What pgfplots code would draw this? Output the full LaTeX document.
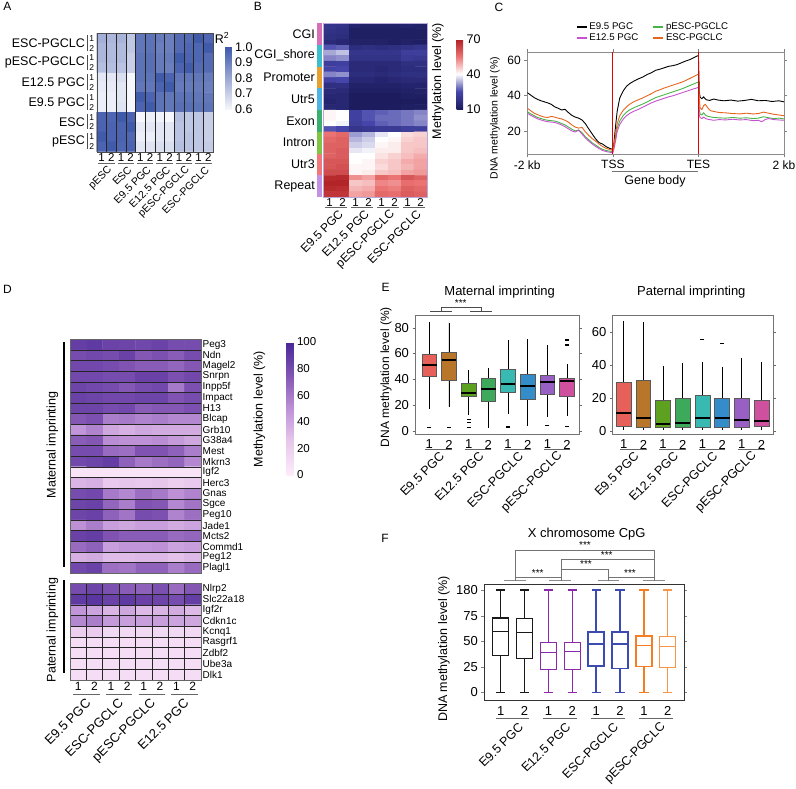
\documentclass[border=0pt]{standalone}
\usepackage{fontspec}
\setmainfont{Liberation Sans}
\usepackage{pgfplots}
\pgfplotsset{compat=1.18}
\usepgfplotslibrary{statistics}
\usetikzlibrary{plotmarks}
\newcommand\fs[1]{\fontsize{#1}{#1}\selectfont}
\definecolor{c1}{RGB}{232,96,90}
\definecolor{c2}{RGB}{184,118,42}
\definecolor{c3}{RGB}{94,160,32}
\definecolor{c4}{RGB}{60,170,90}
\definecolor{c5}{RGB}{56,186,178}
\definecolor{c6}{RGB}{52,140,200}
\definecolor{c7}{RGB}{152,96,196}
\definecolor{c8}{RGB}{208,80,160}
\definecolor{fk}{RGB}{25,25,25}
\definecolor{fp}{RGB}{140,40,170}
\definecolor{fbl}{RGB}{60,75,175}
\definecolor{fo}{RGB}{245,125,35}
\definecolor{fo2}{RGB}{245,150,75}
\definecolor{cmag}{RGB}{200,80,210}
\definecolor{cgrn}{RGB}{70,180,70}
\definecolor{cora}{RGB}{230,100,30}
\definecolor{s1}{RGB}{214,110,184}
\definecolor{s2}{RGB}{60,190,205}
\definecolor{s3}{RGB}{230,160,50}
\definecolor{s4}{RGB}{80,178,225}
\definecolor{s5}{RGB}{60,175,110}
\definecolor{s6}{RGB}{130,195,65}
\definecolor{s7}{RGB}{240,120,120}
\definecolor{s8}{RGB}{195,145,225}
\pgfplotsset{
 base/.style={scale only axis, anchor=north west, /pgf/number format/assume math mode=true,
   ticklabel style={font=\fs{12.5}}, label style={font=\fs{12.5}}},
 heat/.style={base, axis on top, enlargelimits=false, y dir=reverse, major tick length=0pt,
   minor tick length=0pt, grid=minor, minor grid style={black!85, line width=0.55pt}},
 eb/.style={draw=black!65, line width=0.6pt, mark=-, mark size=2pt, mark options={black, line width=1.3pt, solid},
   boxplot/draw direction=y,
   boxplot/every median/.style={black, line width=2.2pt}, boxplot/every whisker/.style={black, line width=0.8pt}},
 fbx/.style={line width=1.4pt, fill=white, boxplot/draw direction=y},
}
\newcommand\N[4][]{\node[L,#1] at (#2pt,-#3pt) {#4};}
\newcommand\HL[4][]{\draw[#1] (#2pt,-#4pt) -- (#3pt,-#4pt);}
\newcommand\VL[4][]{\draw[#1] (#2pt,-#3pt) -- (#2pt,-#4pt);}
\begin{document}
\begin{tikzpicture}[L/.style={inner sep=0pt, font=\fs{12.5}}, ul/.style={black!60, line width=1pt}]
\path[use as bounding box] (0,0) rectangle (796pt,-788pt);
% ================= A =================
\N{7.5}{6}{\fs{12}A}
\begin{axis}[heat, at={(96.7pt,-33.3pt)}, width=116.4pt, height=118.4pt,
 xmin=-0.5, xmax=11.5, ymin=-0.5, ymax=11.5,
 xtick={0,...,11}, xticklabels={1,2,1,2,1,2,1,2,1,2,1,2}, xticklabel style={font=\fs{11.5}, yshift=2pt},
 ytick=\empty, minor xtick={0.5,1.5,...,10.5}, minor ytick={0.5,1.5,...,10.5},
 axis line style={black!70},
 colormap={mapA}{rgb255(0cm)=(246,247,252); rgb255(1cm)=(62,88,170)},
 point meta min=0.6, point meta max=1.0,
 colorbar, colorbar style={at={(parent axis.north east)}, anchor=north west, xshift=3.5pt, yshift=-13.4pt,
   scale only axis, width=6.5pt, height=62.5pt, ytick={0.6,0.7,0.8,0.9,1.0},
   yticklabel style={font=\fs{12.5}, /pgf/number format/assume math mode=true, /pgf/number format/fixed,
   /pgf/number format/fixed zerofill, /pgf/number format/precision=1},
   major tick length=0pt, axis line style={draw=none}}]
\addplot[matrix plot*, mesh/cols=12, point meta=explicit] table[header=false, row sep=\\,
 x expr={mod(\coordindex,12)}, y expr={floor((\coordindex+0.5)/12)}, meta index=0] {
0.78\\0.76\\0.77\\0.72\\0.92\\0.93\\0.91\\0.90\\0.95\\0.95\\0.99\\0.96\\
0.76\\0.75\\0.75\\0.72\\0.92\\0.93\\0.90\\0.90\\0.95\\0.96\\0.96\\0.99\\
0.76\\0.75\\0.75\\0.70\\0.93\\0.94\\0.91\\0.91\\0.99\\0.97\\0.96\\0.95\\
0.74\\0.74\\0.73\\0.70\\0.93\\0.94\\0.91\\0.90\\0.97\\0.99\\0.95\\0.95\\
0.64\\0.64\\0.66\\0.60\\0.93\\0.93\\0.99\\0.97\\0.92\\0.92\\0.92\\0.91\\
0.63\\0.63\\0.64\\0.60\\0.92\\0.92\\0.97\\0.99\\0.91\\0.91\\0.91\\0.90\\
0.62\\0.62\\0.64\\0.60\\0.99\\0.97\\0.93\\0.92\\0.93\\0.93\\0.92\\0.92\\
0.62\\0.62\\0.65\\0.60\\0.97\\0.99\\0.93\\0.92\\0.94\\0.94\\0.93\\0.93\\
0.97\\0.96\\0.99\\0.97\\0.60\\0.62\\0.61\\0.60\\0.74\\0.72\\0.72\\0.70\\
0.97\\0.97\\0.97\\0.99\\0.63\\0.64\\0.64\\0.64\\0.73\\0.72\\0.72\\0.70\\
0.99\\0.97\\0.97\\0.96\\0.62\\0.62\\0.64\\0.64\\0.73\\0.73\\0.72\\0.70\\
0.97\\0.99\\0.96\\0.97\\0.64\\0.65\\0.66\\0.66\\0.74\\0.73\\0.72\\0.71\\
};
\end{axis}
\N{222}{38}{R\textsuperscript{2}}
\N[anchor=east]{85}{43.2}{ESC-PGCLC}
\N[anchor=east]{85}{62.9}{pESC-PGCLC}
\N[anchor=east]{85}{82.6}{E12.5 PGC}
\N[anchor=east]{85}{102.3}{E9.5 PGC}
\N[anchor=east]{85}{122.0}{ESC}
\N[anchor=east]{85}{141.7}{pESC}
\VL[black!70, line width=0.8pt]{87}{34.8}{50.5}
\VL[black!70, line width=0.8pt]{87}{54.5}{70.2}
\VL[black!70, line width=0.8pt]{87}{74.2}{90}
\VL[black!70, line width=0.8pt]{87}{94}{109.7}
\VL[black!70, line width=0.8pt]{87}{113.7}{129.4}
\VL[black!70, line width=0.8pt]{87}{133.4}{149.2}
\N[font=\fs{8.5}]{91.7}{38.2}{1}\N[font=\fs{8.5}]{91.7}{48.1}{2}
\N[font=\fs{8.5}]{91.7}{57.9}{1}\N[font=\fs{8.5}]{91.7}{67.8}{2}
\N[font=\fs{8.5}]{91.7}{77.7}{1}\N[font=\fs{8.5}]{91.7}{87.5}{2}
\N[font=\fs{8.5}]{91.7}{97.4}{1}\N[font=\fs{8.5}]{91.7}{107.3}{2}
\N[font=\fs{8.5}]{91.7}{117.1}{1}\N[font=\fs{8.5}]{91.7}{127.0}{2}
\N[font=\fs{8.5}]{91.7}{136.9}{1}\N[font=\fs{8.5}]{91.7}{146.7}{2}
\HL[ul]{98.2}{114.6}{163.3}\HL[ul]{117.6}{134}{163.3}\HL[ul]{137}{153.4}{163.3}
\HL[ul]{156.4}{172.8}{163.3}\HL[ul]{175.8}{192.2}{163.3}\HL[ul]{195.2}{211.6}{163.3}
\N[anchor=east, rotate=45, font=\fs{10.5}]{110.4}{168}{pESC}
\N[anchor=east, rotate=45, font=\fs{10.5}]{129.8}{168}{ESC}
\N[anchor=east, rotate=45, font=\fs{10.5}]{149.2}{168}{E9.5 PGC}
\N[anchor=east, rotate=45, font=\fs{10.5}]{168.6}{168}{E12.5 PGC}
\N[anchor=east, rotate=45, font=\fs{10.5}]{188}{168}{pESC-PGCLC}
\N[anchor=east, rotate=45, font=\fs{10.5}]{207.4}{168}{ESC-PGCLC}
% ================= B =================
\N{258}{6}{\fs{12}B}
\begin{axis}[base, axis on top, enlargelimits=false, y dir=reverse, at={(323pt,-23pt)}, width=104pt, height=174pt,
 xmin=-0.5, xmax=7.5, ymin=-0.5, ymax=31.5, xtick={0,...,7}, xticklabels={1,2,1,2,1,2,1,2},
 xticklabel style={font=\fs{11.5}, yshift=2pt}, ytick=\empty, major tick length=0pt,
 axis line style={draw={rgb,255:red,185;green,170;blue,220}},
 colormap={mapB}{rgb255(0cm)=(28,28,95); rgb255(1cm)=(70,70,170); rgb255(2cm)=(255,255,255); rgb255(3cm)=(235,115,115); rgb255(4cm)=(175,30,35)},
 point meta min=10, point meta max=70,
 colorbar, colorbar style={at={(parent axis.north east)}, anchor=north west, xshift=21pt, yshift=-16pt,
   scale only axis, width=6.5pt, height=70pt, ytick={10,40,70},
   yticklabel style={font=\fs{12.5}, /pgf/number format/assume math mode=true},
   major tick length=0pt, axis line style={draw=none}}]
\addplot[matrix plot*, mesh/cols=8, point meta=explicit] table[header=false, row sep=\\,
 x expr={mod(\coordindex,8)}, y expr={floor((\coordindex+0.5)/8)}, meta index=0] {
19\\18\\13\\12\\12\\12\\13\\12\\
18\\17\\11\\11\\11\\11\\11\\11\\
17\\16\\11\\11\\11\\11\\11\\11\\
15\\14\\12\\12\\12\\11\\12\\11\\
26\\27\\16\\17\\16\\17\\18\\19\\
33\\35\\19\\19\\19\\19\\22\\22\\
30\\31\\18\\18\\18\\18\\21\\20\\
22\\23\\15\\15\\15\\15\\17\\17\\
24\\25\\15\\15\\14\\15\\16\\16\\
30\\31\\16\\16\\15\\16\\17\\17\\
24\\25\\14\\14\\13\\14\\15\\15\\
17\\17\\12\\12\\12\\12\\13\\13\\
15\\15\\11\\11\\11\\11\\12\\12\\
14\\14\\10\\10\\10\\10\\11\\11\\
13\\14\\10\\10\\10\\10\\10\\10\\
14\\14\\10\\10\\10\\10\\11\\11\\
41\\40\\23\\26\\27\\28\\29\\30\\
41\\40\\23\\26\\28\\28\\29\\31\\
40\\39\\22\\25\\27\\28\\29\\30\\
26\\25\\19\\20\\21\\21\\22\\22\\
55\\57\\32\\34\\38\\40\\44\\45\\
57\\58\\34\\36\\40\\41\\45\\46\\
58\\58\\36\\37\\41\\42\\46\\46\\
58\\59\\38\\39\\42\\42\\46\\47\\
58\\59\\40\\40\\43\\45\\47\\49\\
60\\60\\40\\41\\45\\46\\49\\50\\
60\\61\\41\\41\\44\\46\\48\\50\\
62\\62\\41\\42\\46\\47\\50\\51\\
68\\68\\52\\50\\57\\55\\60\\58\\
69\\69\\46\\47\\53\\52\\56\\55\\
68\\67\\48\\49\\55\\54\\58\\57\\
66\\66\\50\\51\\57\\56\\59\\58\\
};
\end{axis}
\fill[s1] (317pt,-23pt) rectangle (321.5pt,-44.75pt);
\fill[s2] (317pt,-44.75pt) rectangle (321.5pt,-66.5pt);
\fill[s3] (317pt,-66.5pt) rectangle (321.5pt,-88.25pt);
\fill[s4] (317pt,-88.25pt) rectangle (321.5pt,-110pt);
\fill[s5] (317pt,-110pt) rectangle (321.5pt,-131.75pt);
\fill[s6] (317pt,-131.75pt) rectangle (321.5pt,-153.5pt);
\fill[s7] (317pt,-153.5pt) rectangle (321.5pt,-175.25pt);
\fill[s8] (317pt,-175.25pt) rectangle (321.5pt,-197pt);
\N[anchor=east]{315}{33.9}{CGI}
\N[anchor=east]{315}{55.6}{CGI\_shore}
\N[anchor=east]{315}{77.4}{Promoter}
\N[anchor=east]{315}{99.1}{Utr5}
\N[anchor=east]{315}{120.9}{Exon}
\N[anchor=east]{315}{142.6}{Intron}
\N[anchor=east]{315}{164.4}{Utr3}
\N[anchor=east]{315}{186.1}{Repeat}
\HL[ul]{325}{347}{207}\HL[ul]{351}{373}{207}\HL[ul]{377}{399}{207}\HL[ul]{403}{425}{207}
\N[anchor=east, rotate=45, font=\fs{12}]{341}{212}{E9.5 PGC}
\N[anchor=east, rotate=45, font=\fs{12}]{367}{212}{E12.5 PGC}
\N[anchor=east, rotate=45, font=\fs{12}]{393}{212}{pESC-PGCLC}
\N[anchor=east, rotate=45, font=\fs{12}]{419}{212}{ESC-PGCLC}
\N[rotate=90]{438}{81}{Methylation level (\%)}
% ================= C =================
\N{499}{7}{\fs{12}C}
\begin{axis}[base, at={(527.3pt,-52pt)}, width=256.7pt, height=102pt,
 xmin=0, xmax=300, ymin=7, ymax=64.5, xtick={0,100,200,300}, xticklabels={-2 kb,TSS,TES,2 kb},
 ytick={20,40,60}, tick align=outside, major tick length=3pt, axis line style={black!45, line width=0.8pt},
 ticklabel style={font=\fs{12}},
 legend columns=2, legend cell align=left,
 legend style={at={(0.188,1.075)}, anchor=south west, draw=none, fill=none, font=\fs{9.7},
   inner sep=0pt, row sep=-1.5pt, /tikz/every even column/.append style={column sep=12pt}},
 legend image code/.code={\draw[#1, line width=1.6pt] (0pt,0pt) -- (10pt,0pt);}]
\addplot[black, line width=0.9pt] coordinates {(0,41.6)(4,40.2)(8,38.8)(12,37.8)(16,37.0)(20,36.4)(24,35.8)(28,35.0)(32,33.6)(36,32.8)(40,31.8)(44,32.2)(48,30.4)(52,28.8)(56,27.8)(60,27.2)(64,26.2)(68,24.0)(72,21.0)(76,18.2)(80,15.4)(84,13.4)(88,12.6)(92,11.2)(96,10.2)(100,9.6)(101,12)(103,22)(105,31)(108,38.5)(112,42.5)(116,45.2)(120,46.8)(125,48.2)(130,49.4)(135,50.4)(140,51.8)(145,52.8)(150,54.2)(155,54.8)(160,55.6)(165,56.4)(170,56.8)(175,57.4)(180,58.4)(185,59.4)(190,60.2)(195,61.4)(199,62.4)(200,62.4)(201,42)(202,39)(204,38.2)(206,39.2)(209,37.6)(213,37.2)(218,38.0)(223,37.4)(230,37.0)(238,37.4)(246,36.8)(254,37.2)(262,37.8)(270,37.0)(278,37.2)(286,36.6)(294,37.0)(300,36.4)};
\addlegendentry{E9.5 PGC}
\addplot[cgrn, line width=0.9pt] coordinates {(0,30.9)(4,29.6)(8,28.6)(12,27.6)(16,27.0)(20,26.4)(24,26.0)(28,25.8)(32,25.6)(36,25.0)(40,24.2)(44,23.4)(48,22.2)(52,21.0)(56,20.0)(60,20.6)(64,19.0)(68,16.6)(72,15.0)(76,13.2)(80,12.0)(84,10.6)(88,9.6)(92,9.0)(96,8.6)(100,8.4)(101,10)(103,15.5)(105,21.5)(108,25.6)(112,28.6)(116,30.6)(120,32.0)(125,33.2)(130,34.2)(135,35.2)(140,36.4)(145,37.6)(150,38.8)(155,39.6)(160,40.4)(165,41.2)(170,42.0)(175,42.8)(180,43.6)(185,44.6)(190,45.6)(195,46.6)(199,47.4)(200,47.6)(201,32)(202,29.5)(204,29.0)(206,30.2)(209,28.6)(213,28.0)(218,27.6)(224,27.4)(232,27.2)(240,27.6)(248,27.2)(256,27.4)(264,27.0)(270,27.2)(276,28.0)(282,27.4)(288,27.0)(294,27.2)(300,26.8)};
\addlegendentry{pESC-PGCLC}
\addplot[cmag, line width=0.9pt] coordinates {(0,30.0)(4,28.8)(8,27.8)(12,26.8)(16,26.2)(20,25.6)(24,25.2)(28,25.0)(32,24.8)(36,24.2)(40,23.4)(44,22.4)(48,21.2)(52,20.0)(56,19.4)(60,20.4)(64,18.2)(68,16.0)(72,14.2)(76,12.6)(80,11.2)(84,10.0)(88,9.0)(92,8.4)(96,8.0)(100,7.8)(101,9.4)(103,14)(105,19.6)(108,23.6)(112,26.6)(116,28.6)(120,30.0)(125,31.2)(130,32.2)(135,33.4)(140,34.6)(145,35.8)(150,36.8)(155,37.6)(160,38.4)(165,39.2)(170,39.8)(175,40.6)(180,41.4)(185,42.2)(190,43.0)(195,43.8)(199,44.4)(200,44.6)(201,29)(202,27.5)(204,27.0)(206,27.8)(209,26.8)(213,26.4)(218,26.0)(224,26.4)(232,26.2)(240,26.6)(248,26.2)(256,26.4)(264,25.8)(270,26.0)(274,25.2)(278,26.4)(282,27.0)(288,26.4)(294,26.2)(300,26.0)};
\addlegendentry{E12.5 PGC}
\addplot[cora, line width=0.9pt] coordinates {(0,32.8)(4,31.4)(8,30.0)(12,29.2)(16,28.4)(20,27.8)(24,27.6)(28,28.2)(32,27.8)(36,27.2)(40,26.8)(44,26.0)(48,25.0)(52,23.4)(56,22.2)(60,21.6)(64,22.0)(68,19.4)(72,17.4)(76,15.6)(80,14.2)(84,12.6)(88,11.2)(92,10.2)(96,9.6)(100,9.0)(101,11)(103,17.5)(105,24)(108,28.5)(112,31.6)(116,33.6)(120,35.2)(125,36.6)(130,37.6)(135,38.6)(140,39.8)(145,41.0)(150,42.4)(155,43.2)(160,44.2)(165,45.0)(170,45.8)(175,46.6)(180,47.4)(185,48.4)(190,49.6)(195,50.8)(199,51.8)(200,52)(201,38)(202,33)(204,32)(206,34.2)(208,35)(211,33)(214,31.4)(218,31.0)(224,30.4)(232,30.2)(240,29.8)(248,29.6)(256,30.0)(264,29.6)(270,29.8)(276,30.6)(282,30.0)(288,29.4)(294,29.0)(300,28.6)};
\addlegendentry{ESC-PGCLC}
\addplot[red!90!black, line width=0.8pt, forget plot] coordinates {(100,7) (100,64.5)};
\addplot[red!90!black, line width=0.8pt, forget plot] coordinates {(200,7) (200,64.5)};
\end{axis}
\N[rotate=90, font=\fs{10.5}]{495}{118}{DNA methylation level (\%)}
\HL[black!55, line width=0.9pt]{611.7}{698.3}{171.7}
\N{655}{181}{Gene body}
% ================= D =================
\N{7.5}{289}{\fs{12}D}
\begin{axis}[heat, at={(70pt,-339.3pt)}, width=131pt, height=234pt,
 xmin=-0.5, xmax=7.5, ymin=-0.5, ymax=21.5, xtick=\empty,
 ytick={0,...,21}, yticklabels={Peg3,Ndn,Magel2,Snrpn,Inpp5f,Impact,H13,Blcap,Grb10,G38a4,Mest,Mkrn3,Igf2,Herc3,Gnas,Sgce,Peg10,Jade1,Mcts2,Commd1,Peg12,Plagl1},
 yticklabel pos=right, yticklabel style={font=\fs{10}, inner sep=1.5pt},
 minor xtick={0.5,1.5,...,6.5}, minor ytick={0.5,1.5,...,20.5}, axis line style={black!60},
 colormap={mapD}{rgb255(0cm)=(253,236,251); rgb255(1cm)=(232,200,236); rgb255(2cm)=(190,145,215); rgb255(3cm)=(130,85,180); rgb255(4cm)=(72,40,150)},
 point meta min=0, point meta max=100,
 colorbar, colorbar style={at={(parent axis.north east)}, anchor=north west, xshift=77pt, yshift=-2.7pt,
   scale only axis, width=7pt, height=133pt, ytick={0,20,40,60,80,100},
   yticklabel style={font=\fs{11.5}, /pgf/number format/assume math mode=true},
   major tick length=0pt, axis line style={draw=none}}]
\addplot[matrix plot*, mesh/cols=8, point meta=explicit] table[header=false, row sep=\\,
 x expr={mod(\coordindex,8)}, y expr={floor((\coordindex+0.5)/8)}, meta index=0] {
88\\90\\85\\84\\83\\85\\80\\80\\
80\\82\\80\\86\\74\\78\\72\\80\\
82\\82\\80\\76\\72\\72\\68\\74\\
82\\82\\80\\80\\86\\86\\78\\82\\
84\\82\\80\\74\\80\\82\\60\\78\\
86\\84\\82\\82\\84\\84\\76\\80\\
84\\84\\80\\82\\72\\74\\74\\78\\
74\\78\\58\\60\\56\\58\\54\\54\\
48\\56\\40\\36\\40\\38\\38\\38\\
72\\74\\52\\50\\50\\52\\46\\40\\
80\\80\\66\\64\\76\\76\\70\\58\\
82\\84\\88\\70\\60\\64\\68\\54\\
6\\6\\6\\6\\6\\6\\6\\6\\
34\\36\\24\\26\\24\\26\\20\\24\\
80\\82\\60\\54\\64\\60\\50\\56\\
84\\86\\68\\58\\76\\74\\54\\62\\
84\\86\\70\\62\\80\\78\\56\\64\\
50\\58\\44\\40\\44\\44\\38\\42\\
86\\88\\76\\72\\72\\72\\66\\68\\
66\\70\\44\\48\\48\\50\\42\\44\\
36\\38\\30\\30\\32\\32\\28\\32\\
82\\86\\64\\62\\70\\70\\58\\66\\
};
\end{axis}
\begin{axis}[heat, at={(70pt,-583.3pt)}, width=131pt, height=96.7pt,
 xmin=-0.5, xmax=7.5, ymin=-0.5, ymax=8.5,
 xtick={0,...,7}, xticklabels={1,2,1,2,1,2,1,2}, xticklabel style={font=\fs{12}, yshift=1pt},
 ytick={0,...,8}, yticklabels={Nlrp2,Slc22a18,Igf2r,Cdkn1c,Kcnq1,Rasgrf1,Zdbf2,Ube3a,Dlk1},
 yticklabel pos=right, yticklabel style={font=\fs{10}, inner sep=1.5pt},
 minor xtick={0.5,1.5,...,6.5}, minor ytick={0.5,1.5,...,7.5}, axis line style={black!60},
 colormap={mapD}{rgb255(0cm)=(253,236,251); rgb255(1cm)=(232,200,236); rgb255(2cm)=(190,145,215); rgb255(3cm)=(130,85,180); rgb255(4cm)=(72,40,150)},
 point meta min=0, point meta max=100]
\addplot[matrix plot*, mesh/cols=8, point meta=explicit] table[header=false, row sep=\\,
 x expr={mod(\coordindex,8)}, y expr={floor((\coordindex+0.5)/8)}, meta index=0] {
80\\84\\78\\72\\70\\78\\66\\74\\
90\\92\\86\\90\\86\\84\\80\\88\\
48\\42\\34\\40\\32\\34\\38\\32\\
54\\58\\46\\44\\44\\44\\42\\40\\
20\\22\\14\\14\\14\\14\\14\\14\\
10\\10\\10\\10\\10\\10\\10\\10\\
10\\10\\10\\10\\10\\10\\10\\10\\
10\\10\\10\\10\\10\\10\\10\\10\\
10\\10\\10\\10\\10\\10\\10\\10\\
};
\end{axis}
\VL[black, line width=1.2pt]{64}{342}{567}
\VL[black, line width=1.2pt]{64}{580}{673}
\N[rotate=90]{52.5}{445}{Maternal imprinting}
\N[rotate=90]{52.5}{630}{Paternal imprinting}
\N[rotate=90]{259.5}{409}{Methylation level (\%)}
\HL[ul]{73}{99.8}{694}\HL[ul]{105.8}{132.4}{694}\HL[ul]{138.5}{165.2}{694}\HL[ul]{171.3}{198}{694}
\N[anchor=east, rotate=45, font=\fs{13}]{88.4}{701}{E9.5 PGC}
\N[anchor=east, rotate=45, font=\fs{13}]{121.1}{701}{ESC-PGCLC}
\N[anchor=east, rotate=45, font=\fs{13}]{153.9}{701}{pESC-PGCLC}
\N[anchor=east, rotate=45, font=\fs{13}]{186.6}{701}{E12.5 PGC}
% ================= E =================
\N{385.5}{287.5}{\fs{12}E}
\begin{axis}[base, at={(415pt,-315pt)}, width=164.3pt, height=119pt,
 xmin=0.274, xmax=8.62, ymin=-2.6, ymax=89.9, xtick={1,...,8}, xticklabels={1,2,1,2,1,2,1,2},
 ytick={0,20,40,60,80}, axis line style={black!55, line width=0.9pt}, tick align=outside,
 major tick length=2.5pt, xtick style={draw=none}, ytick style={black!60}, ticklabel style={font=\fs{13}}]
\addplot[eb, fill=c1, boxplot prepared={draw position=1, lower whisker=17, lower quartile=42, median=51, upper quartile=59.3, upper whisker=84.7, box extend=0.75, whisker extend=0}] table[row sep=\\, y index=0] {v\\2.3\\};
\addplot[eb, fill=c2, boxplot prepared={draw position=2, lower whisker=18.7, lower quartile=38.8, median=55.2, upper quartile=60.9, upper whisker=83.9, box extend=0.75, whisker extend=0}] table[row sep=\\, y index=0] {v\\2.3\\};
\addplot[eb, fill=c3, boxplot prepared={draw position=3, lower whisker=12.2, lower quartile=26.4, median=29, upper quartile=37, upper whisker=47.1, box extend=0.75, whisker extend=0}] table[row sep=\\, y index=0] {v\\8.8\\6.2\\2.3\\};
\addplot[eb, fill=c4, boxplot prepared={draw position=4, lower whisker=2.3, lower quartile=23.1, median=32.6, upper quartile=40.7, upper whisker=48.4, box extend=0.75, whisker extend=0}] coordinates {};
\addplot[eb, fill=c5, boxplot prepared={draw position=5, lower whisker=13, lower quartile=30, median=36, upper quartile=47.7, upper whisker=70.4, box extend=0.75, whisker extend=0}] table[row sep=\\, y index=0] {v\\2.8\\};
\addplot[eb, fill=c6, boxplot prepared={draw position=6, lower whisker=3.3, lower quartile=24.4, median=34.7, upper quartile=44, upper whisker=71, box extend=0.75, whisker extend=0}] coordinates {};
\addplot[eb, fill=c7, boxplot prepared={draw position=7, lower whisker=10.9, lower quartile=28, median=37.8, upper quartile=43.3, upper whisker=66.5, box extend=0.75, whisker extend=0}] table[row sep=\\, y index=0] {v\\3.8\\};
\addplot[eb, fill=c8, boxplot prepared={draw position=8, lower whisker=11.4, lower quartile=27, median=38.6, upper quartile=41, upper whisker=51.8, box extend=0.75, whisker extend=0}] table[row sep=\\, y index=0] {v\\3.3\\66.5\\70.4\\};
\end{axis}
\begin{axis}[base, at={(612.3pt,-315pt)}, width=161pt, height=119pt,
 xmin=0.42, xmax=8.6, ymin=-2, ymax=70.1, xtick={1,...,8}, xticklabels={1,2,1,2,1,2,1,2},
 ytick={0,20,40,60}, axis line style={black!55, line width=0.9pt}, tick align=outside,
 major tick length=2.5pt, xtick style={draw=none}, ytick style={black!60}, ticklabel style={font=\fs{13}}]
\addplot[eb, fill=c1, boxplot prepared={draw position=1, lower whisker=0.5, lower quartile=2.8, median=10.5, upper quartile=29.1, upper whisker=66.5, box extend=0.75, whisker extend=0}] coordinates {};
\addplot[eb, fill=c2, boxplot prepared={draw position=2, lower whisker=0.5, lower quartile=2, median=7.7, upper quartile=30.3, upper whisker=66, box extend=0.75, whisker extend=0}] coordinates {};
\addplot[eb, fill=c3, boxplot prepared={draw position=3, lower whisker=0.5, lower quartile=2, median=4, upper quartile=18.6, upper whisker=39.4, box extend=0.75, whisker extend=0}] coordinates {};
\addplot[eb, fill=c4, boxplot prepared={draw position=4, lower whisker=0.5, lower quartile=2.2, median=4.9, upper quartile=19.4, upper whisker=41, box extend=0.75, whisker extend=0}] coordinates {};
\addplot[eb, fill=c5, boxplot prepared={draw position=5, lower whisker=0.5, lower quartile=2.2, median=7.9, upper quartile=21.2, upper whisker=41.4, box extend=0.75, whisker extend=0}] table[row sep=\\, y index=0] {v\\55.4\\};
\addplot[eb, fill=c6, boxplot prepared={draw position=6, lower whisker=0.5, lower quartile=2.2, median=7.9, upper quartile=19.6, upper whisker=38.8, box extend=0.75, whisker extend=0}] table[row sep=\\, y index=0] {v\\53\\};
\addplot[eb, fill=c7, boxplot prepared={draw position=7, lower whisker=0.5, lower quartile=2.2, median=6.7, upper quartile=19.6, upper whisker=43.9, box extend=0.75, whisker extend=0}] coordinates {};
\addplot[eb, fill=c8, boxplot prepared={draw position=8, lower whisker=0.5, lower quartile=2.8, median=6.1, upper quartile=18.6, upper whisker=41.4, box extend=0.75, whisker extend=0}] coordinates {};
\end{axis}
\N[font=\fs{13}]{499.7}{292.3}{Maternal imprinting}
\N[font=\fs{13}]{691.3}{292.3}{Paternal imprinting}
\N[rotate=90, font=\fs{12}]{386}{377}{DNA methylation level (\%)}
\HL[black!70, line width=0.8pt]{430}{451.7}{311.7}
\HL[black!70, line width=0.8pt]{470}{491.7}{311.7}
\draw[black!70, line width=0.8pt] (441pt,-311pt) -- (441pt,-307.7pt) -- (481pt,-307.7pt) -- (481pt,-311pt);
\N[font=\fs{10}]{460.7}{303.5}{***}
\HL[ul]{425.3}{452}{449}\HL[ul]{464.7}{491.4}{449}\HL[ul]{504.1}{530.8}{449}\HL[ul]{543.5}{570.2}{449}
\HL[ul]{619.8}{646.5}{449}\HL[ul]{659.1}{685.8}{449}\HL[ul]{698.5}{725.2}{449}\HL[ul]{737.8}{764.5}{449}
\N[anchor=east, rotate=45]{442.2}{454}{E9.5 PGC}
\N[anchor=east, rotate=45]{481.6}{454}{E12.5 PGC}
\N[anchor=east, rotate=45]{521}{454}{ESC-PGCLC}
\N[anchor=east, rotate=45]{560.4}{454}{pESC-PGCLC}
\N[anchor=east, rotate=45]{636.7}{454}{E9.5 PGC}
\N[anchor=east, rotate=45]{676}{454}{E12.5 PGC}
\N[anchor=east, rotate=45]{715.4}{454}{ESC-PGCLC}
\N[anchor=east, rotate=45]{754.7}{454}{pESC-PGCLC}
% ================= F =================
\N{385}{538}{\fs{12}F}
\begin{axis}[base, at={(484.3pt,-584.3pt)}, width=199.7pt, height=115.7pt,
 xmin=0.313, xmax=8.68, ymin=-7.5, ymax=105.6, xtick={1,...,8}, xticklabels={1,2,1,2,1,2,1,2},
 ytick={0,25,50,75,100}, yticklabels={0,25,50,75,180},
 axis line style={black!80, line width=1pt}, tick align=outside, major tick length=3pt,
 xtick style={draw=none}, ticklabel style={font=\fs{13}}]
\addplot[fbx, draw=fk, boxplot prepared={draw position=1, lower whisker=0, lower quartile=35.9, median=59.4, upper quartile=72.5, upper whisker=100, box extend=0.67, whisker extend=0.39}] coordinates {};
\addplot[fbx, draw=fk, boxplot prepared={draw position=2, lower whisker=0, lower quartile=33.3, median=58.4, upper quartile=72, upper whisker=100, box extend=0.67, whisker extend=0.39}] coordinates {};
\addplot[fbx, draw=fp, boxplot prepared={draw position=3, lower whisker=0, lower quartile=22.5, median=38.8, upper quartile=48.6, upper whisker=100, box extend=0.67, whisker extend=0.39}] coordinates {};
\addplot[fbx, draw=fp, boxplot prepared={draw position=4, lower whisker=0, lower quartile=22.5, median=39.8, upper quartile=48.6, upper whisker=100, box extend=0.67, whisker extend=0.39}] coordinates {};
\addplot[fbx, draw=fbl, boxplot prepared={draw position=5, lower whisker=0, lower quartile=25.8, median=47.3, upper quartile=58.8, upper whisker=100, box extend=0.67, whisker extend=0.39}] coordinates {};
\addplot[fbx, draw=fbl, boxplot prepared={draw position=6, lower whisker=0, lower quartile=23.5, median=47.3, upper quartile=58.8, upper whisker=100, box extend=0.67, whisker extend=0.39}] coordinates {};
\addplot[fbx, draw=fo, boxplot prepared={draw position=7, lower whisker=0, lower quartile=25.1, median=45.7, upper quartile=54.9, upper whisker=100, box extend=0.67, whisker extend=0.39}] coordinates {};
\addplot[fbx, draw=fo2, boxplot prepared={draw position=8, lower whisker=0, lower quartile=24, median=44.7, upper quartile=54.6, upper whisker=100, box extend=0.67, whisker extend=0.39}] coordinates {};
\end{axis}
\N[font=\fs{13}]{586.7}{534.3}{X chromosome CpG}
\N[rotate=90]{444}{649}{DNA methylation level (\%)}
\HL[black!45, line width=1pt]{504.3}{526}{580.7}\HL[black!45, line width=1pt]{549.3}{571}{580.7}
\HL[black!45, line width=1pt]{597.7}{619.3}{580.7}\HL[black!45, line width=1pt]{643.3}{665}{580.7}
\draw[black!55, line width=0.8pt] (515pt,-580.7pt) -- (515pt,-550pt) -- (654.3pt,-550pt) -- (654.3pt,-580.7pt);
\draw[black!55, line width=0.8pt] (561pt,-580.7pt) -- (561pt,-559.3pt) -- (654.3pt,-559.3pt);
\draw[black!55, line width=0.8pt] (561pt,-569pt) -- (608.3pt,-569pt) -- (608.3pt,-580.7pt);
\HL[black!55, line width=0.8pt]{515}{561}{577.3}
\HL[black!55, line width=0.8pt]{608.3}{654.3}{577.3}
\N[font=\fs{10}]{585}{545.5}{***}
\N[font=\fs{10}]{606.7}{555}{***}
\N[font=\fs{10}]{586}{564.5}{***}
\N[font=\fs{10}]{537.7}{573}{***}
\N[font=\fs{10}]{630}{573}{***}
\HL[ul]{495.7}{529.3}{718.3}\HL[ul]{543.3}{576.7}{718.3}\HL[ul]{591}{625}{718.3}\HL[ul]{639.3}{673.3}{718.3}
\N[anchor=east, rotate=45]{521}{725}{E9.5 PGC}
\N[anchor=east, rotate=45]{568.4}{725}{E12.5 PGC}
\N[anchor=east, rotate=45]{616.1}{725}{ESC-PGCLC}
\N[anchor=east, rotate=45]{663.8}{725}{pESC-PGCLC}
\end{tikzpicture}
\end{document}
